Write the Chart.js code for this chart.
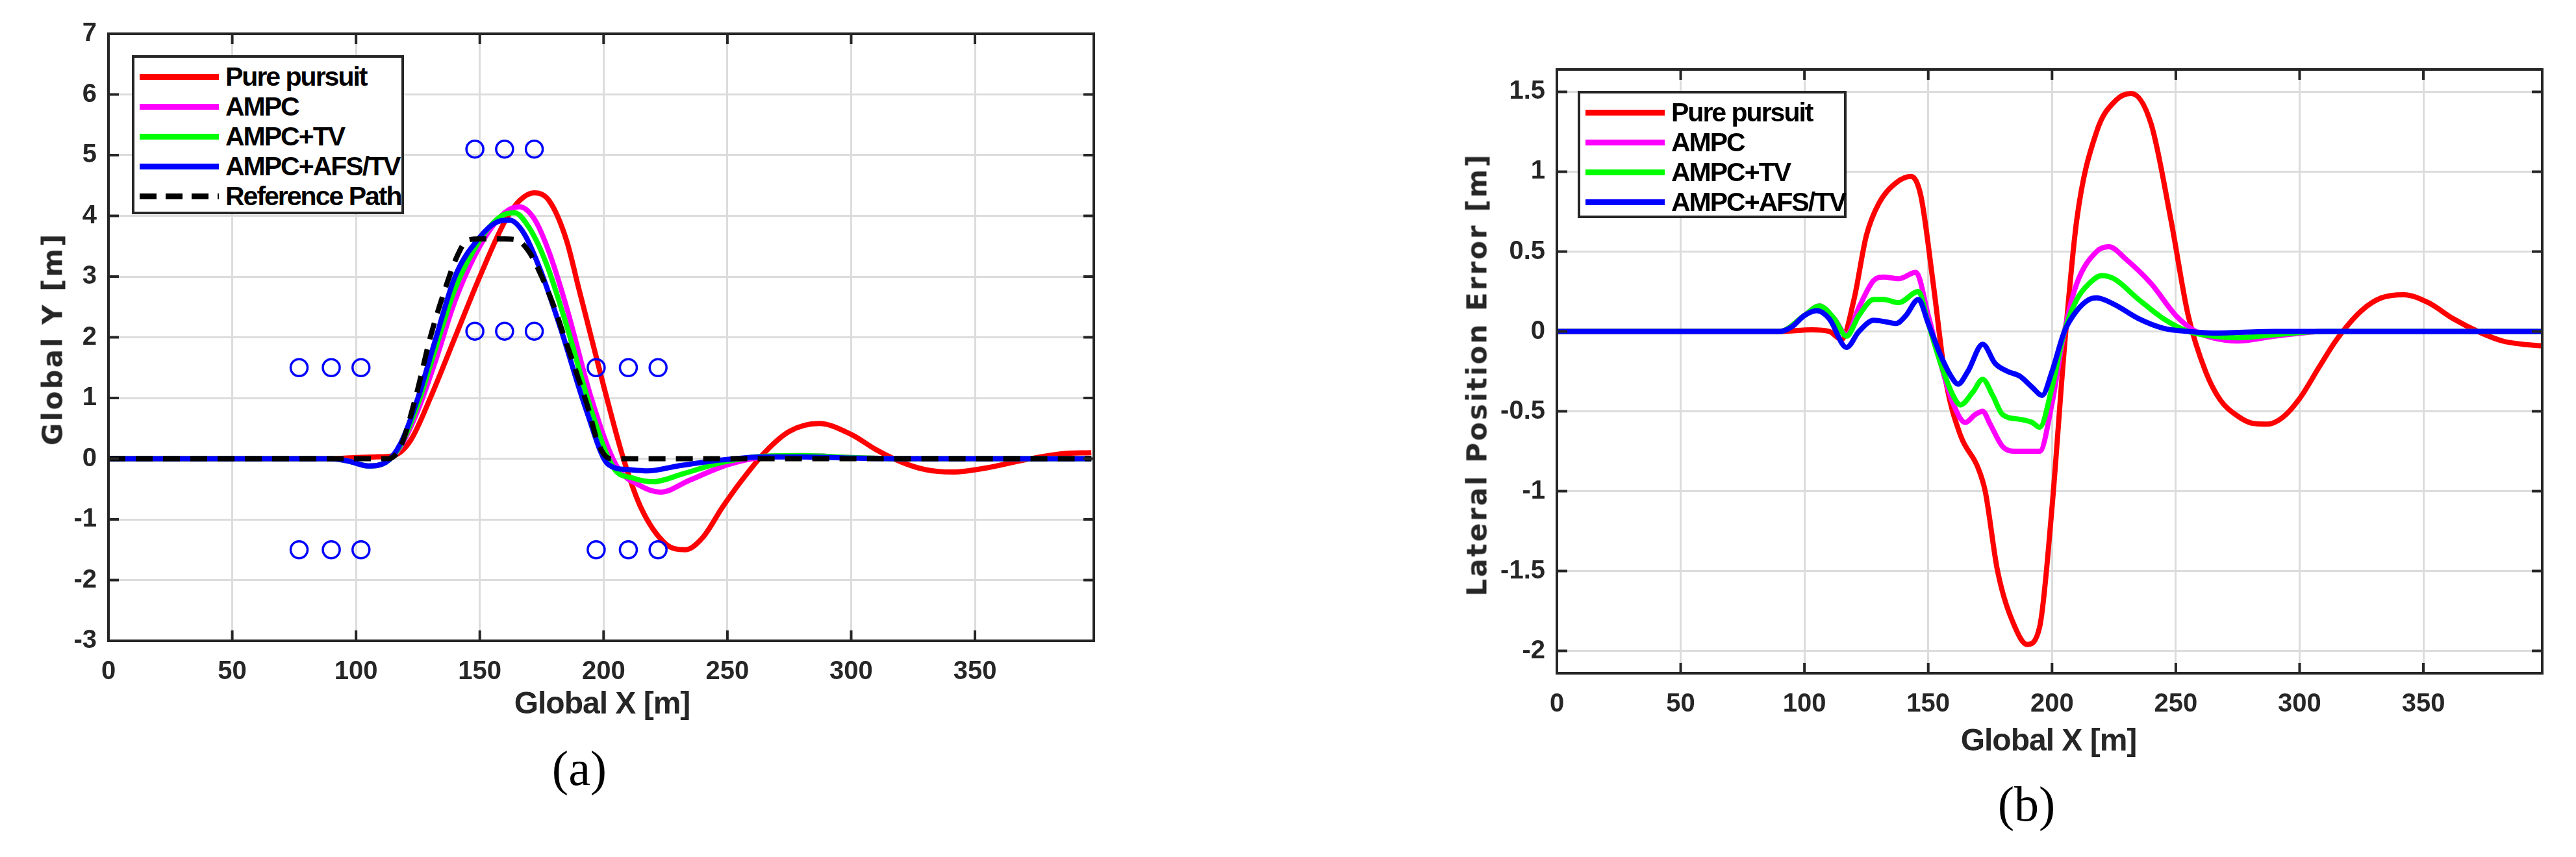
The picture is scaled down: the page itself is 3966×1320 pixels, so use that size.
<!DOCTYPE html>
<html><head><meta charset="utf-8">
<script src="https://cdn.jsdelivr.net/npm/chart.js@4"></script>
<style>
body{margin:0;background:#fff;width:3966px;height:1320px;position:relative;overflow:hidden;font-family:"Liberation Sans Narrow","Liberation Sans",sans-serif}
canvas{position:absolute;top:0}
.lbl{position:absolute;white-space:nowrap;color:#262626;font-weight:bold}
.legend{position:absolute;border:4px solid #262626;background:#fff;box-sizing:border-box}
.item{position:absolute;left:8px;height:46px;display:flex;align-items:center;font-weight:bold;font-size:41px;letter-spacing:-2px;white-space:nowrap;color:#000}
.item span.l{display:inline-block;width:122px;height:9px;margin-right:10px;flex:none}
.cap{position:absolute;font-family:"Liberation Serif","DejaVu Serif",serif;font-size:76px;color:#000;transform:translate(-50%,-50%)}
</style></head><body>
<canvas id="c1" width="1983" height="1320" style="left:0;width:1983px;height:1320px"></canvas>
<canvas id="c2" width="1983" height="1320" style="left:1983px;width:1983px;height:1320px"></canvas>
<div class="lbl" style="left:927px;top:1082px;font-size:48px;letter-spacing:-1px;transform:translate(-50%,-50%)">Global X [m]</div>
<div class="lbl" style="left:3154px;top:1139px;font-size:48px;letter-spacing:-1px;transform:translate(-50%,-50%)">Global X [m]</div>
<div class="lbl" style="left:81px;top:522px;font-size:42px;font-family:'DejaVu Sans';letter-spacing:3px;transform:translate(-50%,-50%) rotate(-90deg)">Global Y [m]</div>
<div class="lbl" style="left:2274px;top:577px;font-size:42px;font-family:'DejaVu Sans';letter-spacing:3px;transform:translate(-50%,-50%) rotate(-90deg)">Lateral Position Error [m]</div>
<div class="cap" style="left:892px;top:1183px">(a)</div>
<div class="cap" style="left:3120px;top:1238px">(b)</div>
<div id="lg1" class="legend" style="left:203px;top:85px;width:419px;height:245px"></div>
<div id="lg2" class="legend" style="left:2429px;top:140px;width:414px;height:196px"></div>
<script>
// ---- data ----
const seriesNames = ["Pure pursuit","AMPC","AMPC+TV","AMPC+AFS/TV","Reference Path"];
const seriesColors = ["#ff0000","#ff00ff","#00ff00","#0000ff","#000000"];
// Chart (a): Global Y vs Global X
const ppX  = [0,90,100,108,115,122,130,140,150,160,166,172,178,185,190,195,200,208,215,225,233,240,248,255,265,275,287,300,310,320,330,341,355,370,385,397];
const ppY  = [0,0,0.02,0.03,0.05,0.3,1.0,2.0,3.0,3.9,4.25,4.38,4.25,3.6,2.8,2.0,1.2,0.0,-0.8,-1.4,-1.5,-1.3,-0.8,-0.4,0.1,0.45,0.58,0.4,0.15,-0.05,-0.18,-0.22,-0.15,-0.02,0.08,0.1];
const ampcX = [0,90,97,105,112,118,125,132,140,150,160,166,172,178,185,195,205,215,223,235,250,265,280,300,320,397];
const ampcY = [0,0,-0.04,-0.12,-0.06,0.2,0.8,1.6,2.6,3.5,4.05,4.15,3.95,3.4,2.5,1.0,-0.1,-0.45,-0.55,-0.35,-0.1,0.03,0.05,0.02,0,0];
const tvX = [0,90,97,105,112,118,125,132,140,150,158,164,170,177,185,195,204,212,220,232,248,265,280,300,320,397];
const tvY = [0,0,-0.04,-0.12,-0.06,0.22,0.9,1.8,2.8,3.6,3.98,4.05,3.8,3.2,2.2,0.8,-0.15,-0.32,-0.38,-0.25,-0.06,0.04,0.05,0.02,0,0];
const afsX = [0,90,97,105,112,118,125,132,140,150,157,162,168,175,183,193,202,210,218,230,248,265,280,300,320,397];
const afsY = [0,0,-0.04,-0.12,-0.06,0.25,1.0,1.95,3.0,3.65,3.9,3.93,3.7,3.05,2.1,0.8,-0.1,-0.18,-0.2,-0.12,-0.02,0.03,0.03,0.01,0,0];
const refX = [0,113,118,124,130,136,141,145,150,160,165,170,175,180,185,190,194,197,200,203,397];
const refY = [0,0,0.2,1.0,2.0,2.8,3.35,3.6,3.62,3.62,3.6,3.4,3.0,2.5,1.9,1.3,0.8,0.35,0.08,0,0];
const coneX = [77,90,102,77,90,102,148,160,172,148,160,172,197,210,222,197,210,222];
const coneY = [1.5,1.5,1.5,-1.5,-1.5,-1.5,5.1,5.1,5.1,2.1,2.1,2.1,1.5,1.5,1.5,-1.5,-1.5,-1.5];
// Chart (b): lateral position error vs Global X
const ePPx = [0,90,103,110,115,120,125,130,137,143,147,152,157,163,170,173,178,185,190,195,200,205,210,218,226,232,240,248,255,262,268,275,281,287,293,300,308,315,325,333,342,352,362,372,382,390,398];
const ePPy = [0,0,0.01,0.0,-0.05,0.2,0.6,0.8,0.93,0.97,0.85,0.3,-0.3,-0.65,-0.85,-1.0,-1.5,-1.85,-1.96,-1.85,-1.1,-0.1,0.7,1.25,1.45,1.49,1.3,0.7,0.1,-0.25,-0.43,-0.53,-0.575,-0.58,-0.54,-0.42,-0.22,-0.05,0.13,0.21,0.23,0.18,0.08,0,-0.06,-0.08,-0.09];
const eAX = [0,90,100,106,112,117,122,128,132,138,145,150,155,160,165,169,172,175,180,185,190,195,200,205,210,218,223,230,240,250,258,265,275,290,310,398];
const eAY = [0,0,0.1,0.16,0.08,-0.02,0.15,0.32,0.34,0.33,0.37,0.1,-0.2,-0.45,-0.57,-0.52,-0.5,-0.58,-0.72,-0.75,-0.75,-0.75,-0.45,0.0,0.3,0.5,0.53,0.45,0.3,0.1,0.0,-0.04,-0.06,-0.03,0,0];
const eTX = [0,90,100,106,112,117,122,128,132,138,146,150,155,160,163,168,172,176,180,187,192,195,200,205,210,215,220,225,235,245,255,265,275,290,310,398];
const eTY = [0,0,0.1,0.16,0.08,-0.03,0.1,0.2,0.2,0.18,0.25,0.05,-0.2,-0.4,-0.46,-0.38,-0.3,-0.4,-0.52,-0.55,-0.57,-0.6,-0.35,0.0,0.2,0.3,0.35,0.33,0.2,0.08,0.0,-0.03,-0.04,-0.02,0,0];
const eFX = [0,90,95,100,105,110,117,122,128,133,137,141,146,150,155,160,162,166,172,177,182,187,192,196,200,205,210,215,218,225,235,245,255,265,290,398];
const eFY = [0,0,0.03,0.1,0.13,0.08,-0.1,0.0,0.07,0.06,0.05,0.1,0.2,0.05,-0.15,-0.3,-0.33,-0.25,-0.08,-0.2,-0.25,-0.28,-0.35,-0.4,-0.25,0.0,0.13,0.2,0.21,0.17,0.08,0.02,0.0,-0.01,0,0];
const xTicks = [0,50,100,150,200,250,300,350];
const yTicksA = [-3,-2,-1,0,1,2,3,4,5,6,7];
const yTicksB = [-2,-1.5,-1,-0.5,0,0.5,1,1.5];

const zip=(xs,ys)=>xs.map((x,i)=>({x,y:ys[i]}));
const FONT = {family:'"Liberation Sans Narrow","Liberation Sans",sans-serif',size:40,weight:'bold'};

const framePlugin={id:'frame',afterDatasetsDraw(ch){
  const a=ch.chartArea,c=ch.ctx;c.save();c.strokeStyle='#262626';c.lineWidth=4;
  c.strokeRect(a.left,a.top,a.right-a.left,a.bottom-a.top);
  const L=16;c.beginPath();
  ch.scales.x.ticks.forEach(t=>{const p=ch.scales.x.getPixelForValue(t.value);c.moveTo(p,a.bottom);c.lineTo(p,a.bottom-L);c.moveTo(p,a.top);c.lineTo(p,a.top+L);});
  ch.scales.y.ticks.forEach(t=>{const p=ch.scales.y.getPixelForValue(t.value);c.moveTo(a.left,p);c.lineTo(a.left+L,p);c.moveTo(a.right,p);c.lineTo(a.right-L,p);});
  c.stroke();c.restore();}};

function line(label,color,data,order,dash){return {type:'line',label,data,order,borderColor:color,backgroundColor:color,borderWidth:8,pointRadius:0,cubicInterpolationMode:'monotone',borderDash:dash||[],fill:false};}

function makeChart(id,datasets,yMin,yMax,yTicks,pad,xH,yW){
  return new Chart(document.getElementById(id),{type:'line',data:{datasets},
   options:{responsive:false,animation:false,devicePixelRatio:1,
    layout:{padding:pad},
    plugins:{legend:{display:false},tooltip:{enabled:false}},
    scales:{
     x:{type:'linear',min:0,max:398,afterBuildTicks:s=>{s.ticks=xTicks.map(v=>({value:v}));},afterFit:s=>{s.height=xH;},
        grid:{color:'#dcdcdc',lineWidth:3,drawTicks:false},border:{display:false},
        ticks:{font:FONT,color:'#262626',padding:24,maxRotation:0}},
     y:{type:'linear',min:yMin,max:yMax,afterBuildTicks:s=>{s.ticks=yTicks.map(v=>({value:v}));},afterFit:s=>{s.width=yW;},
        grid:{color:'#dcdcdc',lineWidth:3,drawTicks:false},border:{display:false},
        ticks:{font:FONT,color:'#262626',padding:18,callback:v=>String(v)}}
    }},plugins:[framePlugin]});
}

makeChart('c1',[
  line(seriesNames[0],seriesColors[0],zip(ppX,ppY),5),
  line(seriesNames[1],seriesColors[1],zip(ampcX,ampcY),4),
  line(seriesNames[2],seriesColors[2],zip(tvX,tvY),3),
  line(seriesNames[3],seriesColors[3],zip(afsX,afsY),2),
  line(seriesNames[4],seriesColors[4],zip(refX,refY),1,[26,16]),
  {type:'scatter',label:'cones',order:0,data:zip(coneX,coneY),showLine:false,pointRadius:13,pointBorderWidth:3.5,pointBorderColor:'#0000ff',pointBackgroundColor:'rgba(0,0,0,0)',borderColor:'#0000ff'}
],-3,7,yTicksA,{left:0,top:52,right:1983-1684,bottom:0},1320-987,167);

makeChart('c2',[
  line(seriesNames[0],seriesColors[0],zip(ePPx,ePPy),5),
  line(seriesNames[1],seriesColors[1],zip(eAX,eAY),4),
  line(seriesNames[2],seriesColors[2],zip(eTX,eTY),3),
  line(seriesNames[3],seriesColors[3],zip(eFX,eFY),2)
],-2.14,1.64,yTicksB,{left:0,top:107,right:1983-1931,bottom:0},1320-1037,414);

function legend(id,n){
  const el=document.getElementById(id);
  for(let i=0;i<n;i++){
    const d=document.createElement('div');d.className='item';d.style.top=(6+46*i)+'px';
    const sw=document.createElement('span');sw.className='l';
    if(i===4){sw.style.background='repeating-linear-gradient(90deg,#000 0 26px,transparent 26px 40px)';}
    else sw.style.background=seriesColors[i];
    d.appendChild(sw);d.appendChild(document.createTextNode(seriesNames[i]));el.appendChild(d);
  }
}
legend('lg1',5);legend('lg2',4);
</script>
</body></html>
